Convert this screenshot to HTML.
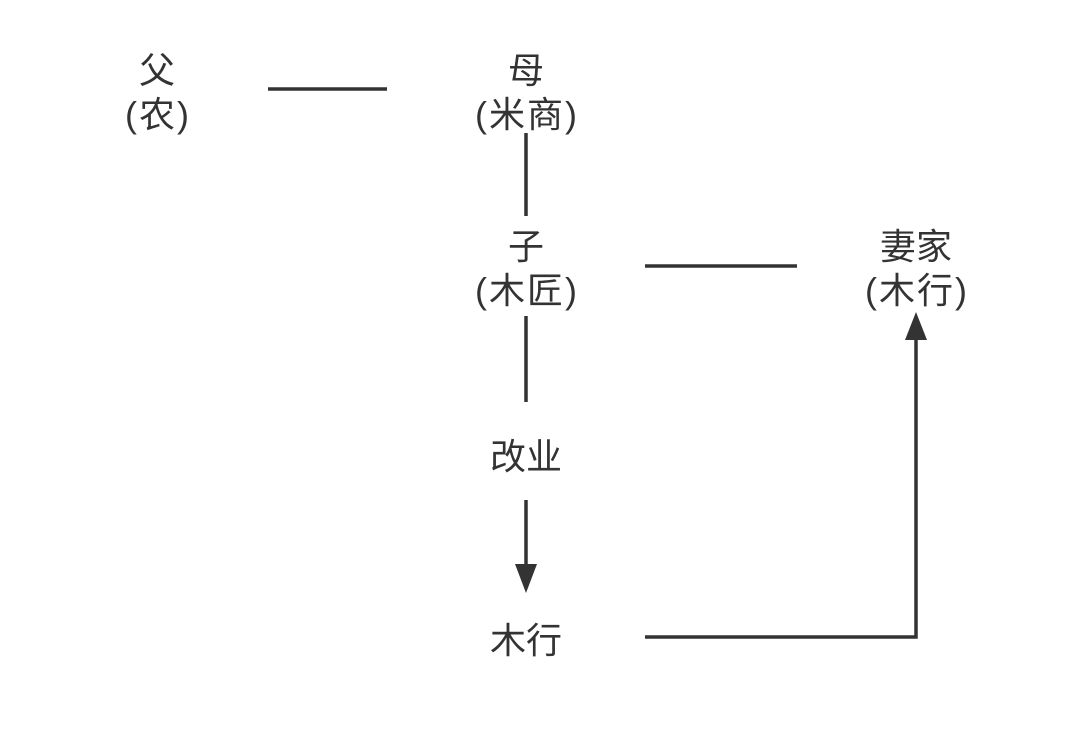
<!DOCTYPE html>
<html><head><meta charset="utf-8"><style>
html,body{margin:0;padding:0;background:#fff;}
svg{display:block;}
text{font-family:"Liberation Sans","Noto Sans CJK SC",sans-serif;font-size:36px;fill:#333;text-anchor:middle;}
.p{letter-spacing:2px;}
</style></head><body>
<svg width="1080" height="733" viewBox="0 0 1080 733" xmlns="http://www.w3.org/2000/svg">
<rect width="1080" height="733" fill="#fff"/>
<text x="157" y="83">父</text>
<text class="p" x="158" y="127">(农)</text>
<text x="526" y="83">母</text>
<text class="p" x="527" y="127">(米商)</text>
<text x="526" y="259">子</text>
<text class="p" x="527" y="303">(木匠)</text>
<text x="916" y="259">妻家</text>
<text class="p" x="917" y="303">(木行)</text>
<text x="526" y="469">改业</text>
<text x="526" y="653">木行</text>
<g stroke="#333" stroke-width="3.5" fill="none">
<line x1="268" y1="89" x2="387" y2="89"/>
<line x1="526" y1="133" x2="526" y2="216"/>
<line x1="645" y1="266" x2="797" y2="266"/>
<line x1="526" y1="316" x2="526" y2="402"/>
<line x1="526" y1="500" x2="526" y2="566"/>
<polyline points="645,637 916,637 916,338"/>
</g>
<polygon points="515,564 537,564 526,593" fill="#333"/>
<polygon points="905,340 927,340 916,312" fill="#333"/>
</svg>
</body></html>
